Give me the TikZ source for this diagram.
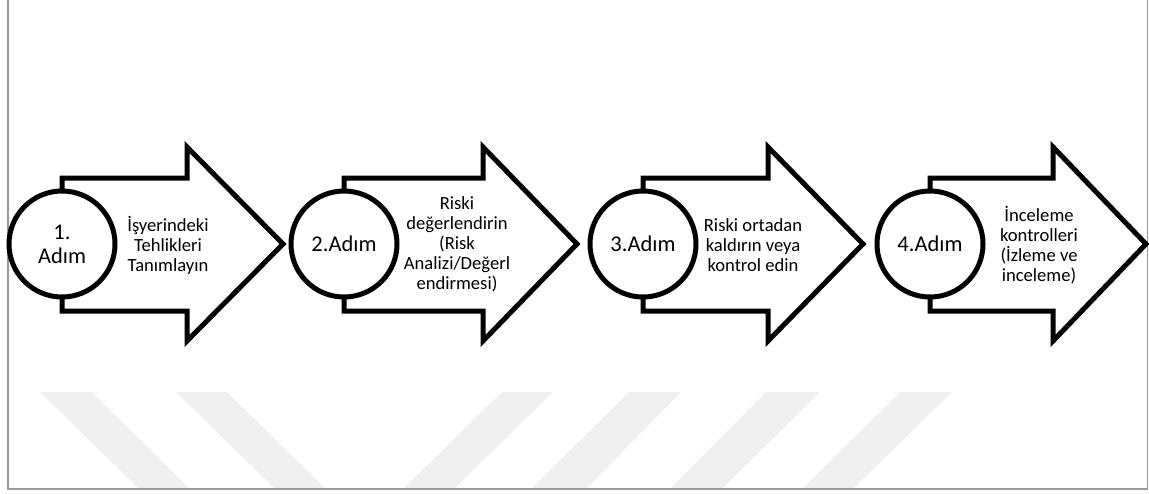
\documentclass[tikz,border=0pt]{standalone}
\usepackage{fontspec}
\setmainfont{Carlito}
\usetikzlibrary{calc}

\begin{document}
\begin{tikzpicture}[x=1pt, y=-1pt,
    okbox/.style={line width=5pt, fill=white, line join=miter},
    adim/.style={circle, draw, line width=5pt, fill=white, minimum size=106pt,
        inner sep=0pt, align=center, font=\fontsize{22.5}{24}\selectfont},
    yazi/.style={align=center, inner sep=0pt, font=\fontsize{18.6}{20}\selectfont},
    iz/.style={fill=black!6, draw=none}]
\useasboundingbox (0,0) rectangle (1149,493);

% watermark stripes
\fill[iz] (40,392) -- (92,392) -- (190,489) -- (139,489) -- cycle;
\fill[iz] (176,392) -- (227,392) -- (326,489) -- (275,489) -- cycle;
\fill[iz] (502,392) -- (553,392) -- (454,489) -- (403,489) -- cycle;
\fill[iz] (629,392) -- (681,392) -- (586,489) -- (531,489) -- cycle;
\fill[iz] (766,392) -- (820,392) -- (722,489) -- (670,489) -- cycle;
\fill[iz] (900,392) -- (952,392) -- (853,489) -- (802,489) -- cycle;

% frame
\draw[black!40, line width=1.3pt] (8,0) -- (8,489) -- (1147.5,489) -- (1147.5,0);

% 1. step
\draw[okbox]
    (62,178) --   % shaft top
    (187,178) --  % notch top
    (187,147) --  % head top
    (283,244) --  % tip
    (187,341) --  % head bottom
    (187,311) --  % notch bottom
    (62,311) -- cycle;  % shaft bottom
\node[adim] (a1) at (62,244) {1.\\Adım};
\node[yazi] (t1) at (168,245) {İşyerindeki\\Tehlikleri\\Tanımlayın};

% 2. step
\draw[okbox]
    (344,178) --  % shaft top
    (483,178) --  % notch top
    (483,147) --  % head top
    (577,244) --  % tip
    (483,341) --  % head bottom
    (483,311) --  % notch bottom
    (344,311) -- cycle;  % shaft bottom
\node[adim] (a2) at (344,244) {2.Adım};
\node[yazi] (t2) at (457,244) {Riski\\değerlendirin\\(Risk\\Analizi/Değerl\\endirmesi)};

% 3. step
\draw[okbox]
    (643,178) --  % shaft top
    (768,178) --  % notch top
    (768,147) --  % head top
    (863,244) --  % tip
    (768,341) --  % head bottom
    (768,311) --  % notch bottom
    (643,311) -- cycle;  % shaft bottom
\node[adim] (a3) at (643,244) {3.Adım};
\node[yazi] (t3) at (753,245) {Riski ortadan\\kaldırın veya\\kontrol edin};

% 4. step
\draw[okbox]
    (930,178) --   % shaft top
    (1053,178) --  % notch top
    (1053,147) --  % head top
    (1146,244) --  % tip
    (1053,341) --  % head bottom
    (1053,311) --  % notch bottom
    (930,311) -- cycle;  % shaft bottom
\node[adim] (a4) at (930,244) {4.Adım};
\node[yazi] (t4) at (1039,245) {İnceleme\\kontrolleri\\(İzleme ve\\inceleme)};

\end{tikzpicture}
\end{document}
